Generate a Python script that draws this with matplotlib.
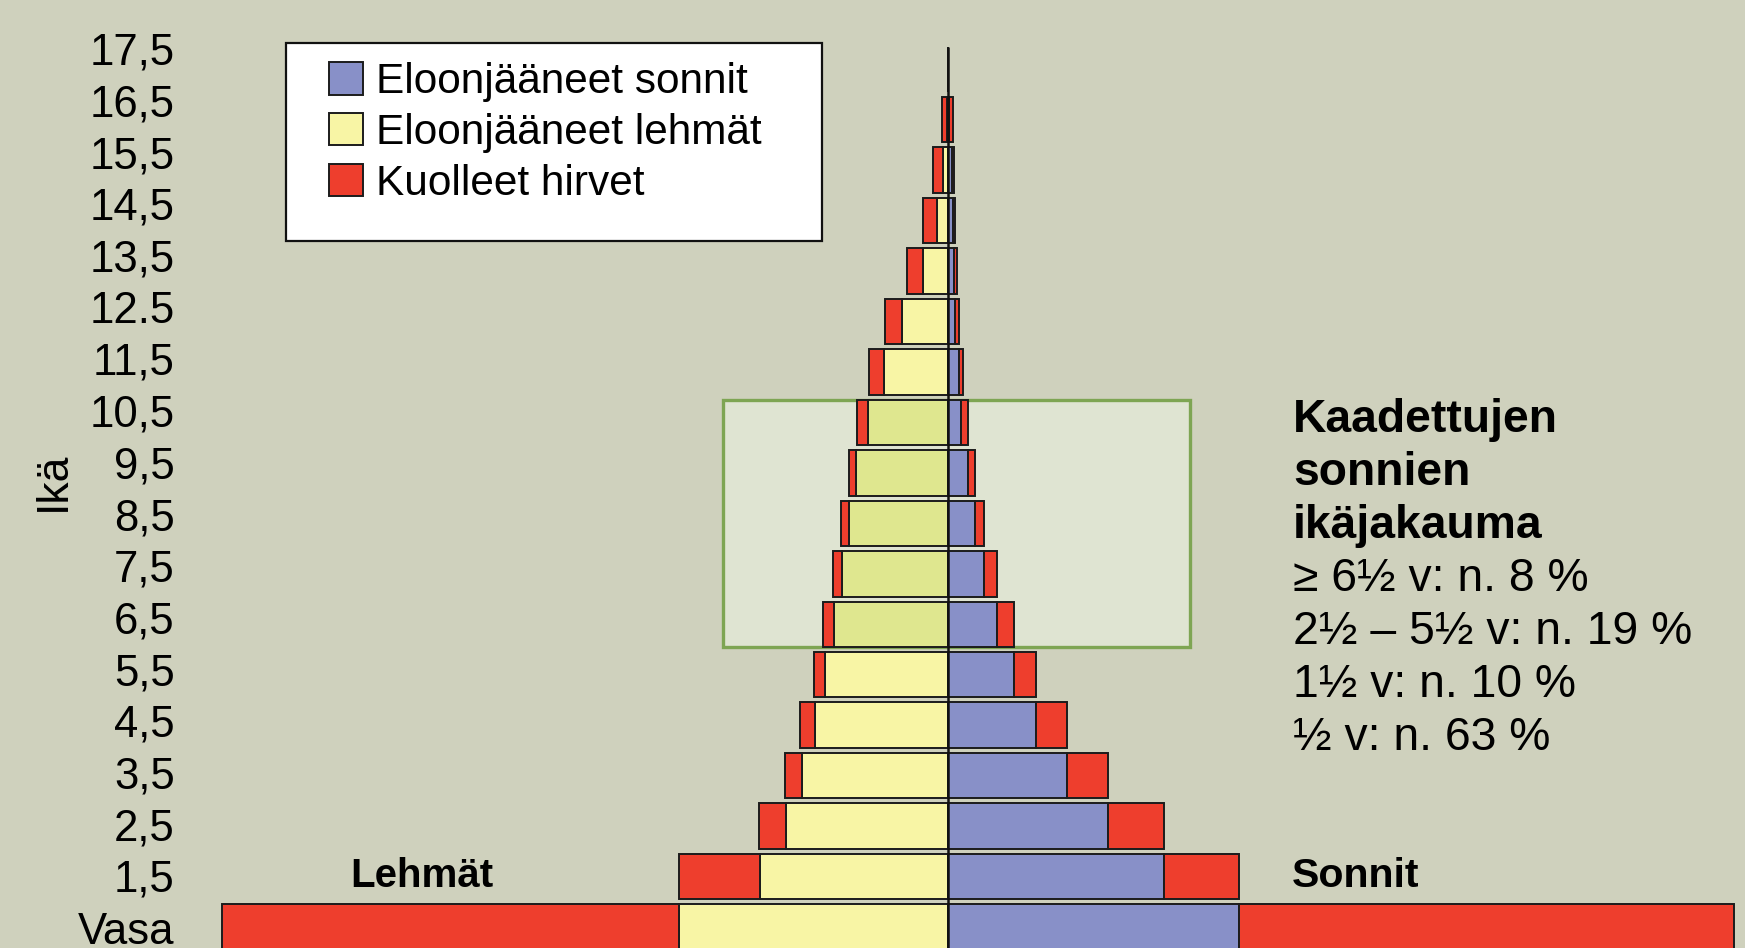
import matplotlib.pyplot as plt
from matplotlib.patches import Patch, Rectangle

plt.rcParams['font.family'] = ['Liberation Sans', 'DejaVu Sans']

# ikäluokat alhaalta ylös
ika = ['Vasa', '1,5', '2,5', '3,5', '4,5', '5,5', '6,5', '7,5', '8,5',
       '9,5', '10,5', '11,5', '12.5', '13,5', '14,5', '15,5', '16,5', '17,5']

# lehmät (vasen puoli)
lehma_elossa = [241.5, 168.5, 145.2, 131.2, 119.1, 110.3, 101.8, 95.0, 88.4,
                82.4, 71.9, 57.2, 40.7, 21.9, 9.9, 3.9, 0.5, 0]
lehma_kuolleet = [410.5, 73.0, 24.1, 15.2, 13.3, 10.0, 9.9, 8.3, 7.5,
                  6.6, 9.6, 13.2, 15.6, 14.4, 12.0, 9.3, 4.3, 0]

# sonnit (oikea puoli)
sonni_elossa = [261.5, 194.6, 144.4, 107.1, 79.4, 59.4, 44.3, 33.0, 24.6,
                18.0, 12.0, 10.5, 6.6, 5.7, 4.5, 3.6, 1.0, 0]
sonni_kuolleet = [445.3, 66.9, 50.2, 37.3, 27.7, 20.0, 15.6, 11.3, 8.4,
                  6.5, 6.0, 3.6, 3.9, 2.4, 2.1, 2.1, 3.5, 0]

# korostetut ikäluokat (6,5 - 10,5)
korostus = ['6,5', '7,5', '8,5', '9,5', '10,5']

teksti = ['Kaadettujen', 'sonnien', 'ikäjakauma',
          '≥ 6½ v: n. 8 %', '2½ – 5½ v: n. 19 %', '1½ v: n. 10 %', '½ v: n. 63 %']

TAUSTA = '#cfd1bd'
SININEN = '#8890c8'
KELTAINEN = '#f8f5a5'
KELT_KOR = '#dfe78f'
PUNAINEN = '#ee3e2d'
REUNA = '#1c1c1c'

rivit = list(range(len(ika)))
h = 0.9

fig = plt.figure(figsize=(17.45, 9.48), dpi=100, facecolor=TAUSTA)
ax = fig.add_axes([0.12, 0, 0.88, 1])
ax.set_facecolor(TAUSTA)

# vihreä korostuslaatikko
r0 = ika.index(korostus[0])
r1 = ika.index(korostus[-1])
ax.add_patch(Rectangle((-201.5, r0 - h / 2), 419.3, (r1 - r0) + h,
                       facecolor='#dfe4d2', edgecolor='#7ea553', lw=2.4, zorder=1))

kelt_varit = [KELT_KOR if a in korostus else KELTAINEN for a in ika]

ax.barh(rivit, [-v for v in lehma_elossa], height=h, color=kelt_varit,
        edgecolor=REUNA, lw=1.4, zorder=2)
ax.barh(rivit, [-v for v in lehma_kuolleet], left=[-v for v in lehma_elossa],
        height=h, color=PUNAINEN, edgecolor=REUNA, lw=1.4, zorder=2)
ax.barh(rivit, sonni_elossa, height=h, color=SININEN,
        edgecolor=REUNA, lw=1.4, zorder=2)
ax.barh(rivit, sonni_kuolleet, left=sonni_elossa, height=h, color=PUNAINEN,
        edgecolor=REUNA, lw=1.4, zorder=2)

ax.vlines(0, -0.5, len(ika) - 1 + h / 2, color='#111111', lw=1.8, zorder=3)

ax.set_xlim(-663.3, 716.5)
ax.set_ylim(-0.416, 18.372)
ax.set_yticks([i * 1.0243 - 0.01 for i in rivit], ika)
ax.tick_params(axis='y', length=0, pad=25, labelsize=31.5)
ax.set_xticks([])
for s in ax.spines.values():
    s.set_visible(False)

fig.text(53.4 / 1745, 1 - 481 / 948, 'Ikä', rotation=90, fontsize=32,
         ha='center', va='center')

ax.text(-536.5, 0.797, 'Lehmät', fontsize=29, fontweight='bold', va='baseline')
ax.text(309.5, 0.797, 'Sonnit', fontsize=29.5, fontweight='bold', va='baseline')

for k, rivi in enumerate(teksti):
    ax.text(310.5, 9.818 - k * 1.051, rivi, fontsize=33.3,
            fontweight='bold' if k < 3 else 'normal', va='baseline')

# selite
fig.patches.append(Rectangle((286 / 1745, 1 - 240.7 / 948), 535.8 / 1745, 197.4 / 948,
                             transform=fig.transFigure, facecolor='white',
                             edgecolor='#111111', lw=1.6, zorder=4))
kahvat = [Patch(facecolor=SININEN, edgecolor=REUNA, lw=1.4),
          Patch(facecolor=KELTAINEN, edgecolor=REUNA, lw=1.4),
          Patch(facecolor=PUNAINEN, edgecolor=REUNA, lw=1.4)]
leg = fig.legend(kahvat, ['Eloonjääneet sonnit', 'Eloonjääneet lehmät', 'Kuolleet hirvet'],
                 loc='upper left', bbox_to_anchor=(0.1888, 0.9345), frameon=False,
                 fontsize=30.5, handlelength=0.8, handleheight=0.8,
                 handletextpad=0.3, labelspacing=0.255, borderpad=0, borderaxespad=0)
leg.set_zorder(5)

fig.savefig('out.png', dpi=100, facecolor=TAUSTA)
